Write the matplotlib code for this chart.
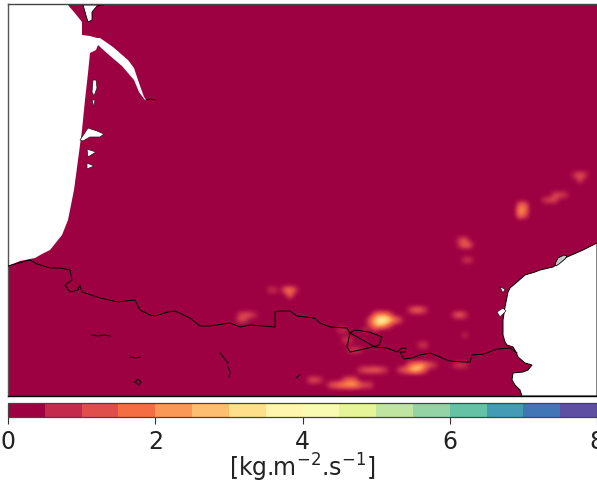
import numpy as np
import matplotlib
matplotlib.use("Agg")
import matplotlib.pyplot as plt
from matplotlib.cm import ScalarMappable
from matplotlib.colors import BoundaryNorm, Normalize
from matplotlib.patches import Polygon
from matplotlib.ticker import FormatStrFormatter, NullLocator

W, H = 597, 486

# Colour scale
levels = [i * 0.5 for i in range(17)]
tick_values = [0, 2, 4, 6, 8]
unit_label = r"[kg.m$^{-2}$.s$^{-1}$]"
background_value = 0.0

# Precipitation cells (map position, value)
hot_x = [375,380,385,390, 370,375,380,385,390,395,400, 370,375,380,385,390, 365,375,
         410,415,420,425, 455,460,465,
         460,465, 460,465,470, 465,470,
         520,525, 520,525, 520,525,
         545,550,555, 555,560,565, 575,580,585, 580,
         285,290,295, 270,275, 290,
         240,245,250,255, 240,245,
         330,335,340,345,350,355,360,365,370, 345,350,355,
         360,365,370,375,380,385,
         410,415,420,425,430,435, 400,405,410,415,420,425,
         310,315,320, 350,355,360, 340,345, 345,350, 420,425, 455,460,465, 465]
hot_y = [315,315,315,315, 320,320,320,320,320,320,320, 325,325,325,325,325, 330,330,
         310,310,310,310, 315,315,315,
         240,240, 245,245,245, 260,260,
         205,205, 210,210, 215,215,
         200,200,200, 195,195,195, 175,175,175, 180,
         290,290,290, 290,290, 295,
         315,315,315,315, 320,320,
         385,385,385,385,385,385,385,385,385, 380,380,380,
         370,370,370,370,370,370,
         365,365,365,365,365,365, 370,370,370,370,370,370,
         380,380,380, 350,350,350, 330,330, 340,340, 345,345, 365,365,365, 335]
hot_v = [1.5,2.2,2.2,1.2, 1.2,2.8,3.8,3.8,3.0,2.0,1.0, 0.9,2.2,3.0,2.2,1.0, 0.6,0.7,
         0.8,1.6,1.6,0.8, 1.0,1.6,0.8,
         0.8,1.2, 0.8,1.6,1.2, 0.8,0.8,
         1.5,1.5, 2.2,1.8, 2.0,1.2,
         0.8,1.0,1.0, 1.0,1.0,0.8, 0.8,1.2,0.8, 1.0,
         1.5,2.0,1.0, 0.7,0.7, 1.5,
         0.8,1.2,1.0,0.6, 1.0,0.8,
         1.0,1.5,2.0,2.2,2.4,2.4,1.5,1.0,1.0, 1.0,1.5,1.2,
         0.8,1.2,1.4,1.5,1.2,0.8,
         1.5,2.0,2.6,2.0,1.2,0.7, 1.0,1.5,2.2,3.0,2.4,1.0,
         1.0,1.2,0.8, 0.7,0.9,0.6, 0.7,0.7, 0.9,0.8, 0.7,0.9, 0.6,0.9,0.7, 0.6]

# Sea and lagoon outlines (map position)
atlantic_x = [67,74,82,82,90,97,100,113,128,134,138,144,147,145,139,134,122,109,98,96,90,88,85,82,78,74,68,62,58,50,42,35,20,8,8]
atlantic_y = [4,12,22,35,36,38,38,47,60,68,80,97,101,100,92,80,66,55,45,50,53,73,100,130,160,190,220,235,240,250,254,258,261,266,4]
med_x = [597,583,567,560,553,540,535,525,517,510,508,505,503,503,505,507,513,516,518,525,532,528,523,513,512,515,520,522,597]
med_y = [243,250,257,262,267,270,272,275,282,288,292,307,320,335,342,345,347,352,357,363,365,370,372,373,380,385,390,396,396]
pocket_x = [83,88,92,92,97,104]
pocket_y = [5,22,20,12,6,5]
lake_xs = [[93,96,97,94,92], [92,95,94], [80,88,97,104,100,90,83], [87,96,88], [87,94,87], [497,503,506,500], [500,505,503]]
lake_ys = [[80,80,88,96,92], [100,100,107], [140,128,131,134,137,137,141], [149,152,157], [163,166,169], [312,308,311,317], [287,289,293]]
lagoon_x = [555,558,564,567,565,559,556]
lagoon_y = [264,258,255,256,259,264,266]

# Borders and inland lines (map position)
border_x = [8,22,30,37,50,60,70,72,65,70,78,80,82,100,118,125,135,140,150,155,168,175,190,200,210,230,240,250,275,275,280,290,297,314,320,330,347,
            350,347,350,360,372,379,382,369,355,350,
            375,387,397,402,406,405,400,404,412,420,430,440,449,464,470,472,484,497,510,517]
border_y = [266,262,260,264,268,268,270,280,285,292,290,285,292,298,302,301,300,310,315,316,312,311,318,326,326,323,327,325,327,312,311,311,316,318,323,327,328,
            333,347,352,350,347,345,337,332,330,333,
            347,348,352,348,348,352,352,359,358,355,353,357,361,362,362,355,354,349,348,353]
inland_xs = [[92,98,104,110], [130,135,140], [135,138,141,139,135], [220,224,228], [228,230,229], [296,300], [146,150,155]]
inland_ys = [[335,336,335,336], [357,358,357], [382,379,382,385,382], [353,358,363], [367,372,377], [378,375], [100,99,100]]

plt.rcParams["font.family"] = "DejaVu Sans"
fig = plt.figure(figsize=(W / 100, H / 100), dpi=100)
ax = fig.add_axes([8 / W, 1 - 396 / H, (W - 8) / W, 392 / H])
cax = fig.add_axes([8 / W, 1 - 417 / H, (W - 8) / W, 14 / H])

cmap_bar = plt.get_cmap("Spectral", 16)
norm_bar = BoundaryNorm(levels, 16)

grid_x = np.arange(5, 605, 5)
grid_y = np.arange(0, 405, 5)
field = np.full((grid_y.size, grid_x.size), background_value)
for x, y, v in zip(hot_x, hot_y, hot_v):
    field[np.searchsorted(grid_y, y), np.searchsorted(grid_x, x)] = v

ax.imshow(field, cmap="Spectral", norm=Normalize(0, 8), interpolation="bicubic",
          interpolation_stage="data", aspect="auto",
          extent=[2.5, 602.5, 402.5, -2.5], zorder=1)

ax.add_patch(Polygon(np.column_stack([atlantic_x, atlantic_y]), fc="white", ec="none", zorder=2))
ax.add_patch(Polygon(np.column_stack([med_x, med_y]), fc="white", ec="black", lw=0.7, zorder=2))
ax.add_patch(Polygon(np.column_stack([pocket_x, pocket_y]), fc="white", ec="black", lw=0.6, zorder=2))
for xs, ys in zip(lake_xs, lake_ys):
    ax.add_patch(Polygon(np.column_stack([xs, ys]), fc="white", ec="#301020", lw=0.5, zorder=2))
ax.add_patch(Polygon(np.column_stack([lagoon_x, lagoon_y]), fc="#c8c8c8", ec="black", lw=0.6, zorder=2))

ax.plot(border_x, border_y, color="black", lw=0.7, zorder=3)
for xs, ys in zip(inland_xs, inland_ys):
    ax.plot(xs, ys, color="#200010", lw=0.9, zorder=3)

ax.set_xlim(8, 597)
ax.set_ylim(396, 4)
ax.set_xticks([])
ax.set_yticks([])
for name, spine in ax.spines.items():
    spine.set_linewidth(1.0)
ax.spines["left"].set_color("#555555")
ax.spines["top"].set_color("#444444")
ax.spines["right"].set_visible(False)

cb = fig.colorbar(ScalarMappable(norm=norm_bar, cmap=cmap_bar), cax=cax,
                  orientation="horizontal", ticks=tick_values, spacing="proportional")
cb.ax.xaxis.set_minor_locator(NullLocator())
cb.outline.set_edgecolor("#444444")
cb.outline.set_linewidth(0.9)
cb.ax.tick_params(labelsize=17, length=5, width=0.8, color="#333333", pad=4, labelcolor="#222222")
cb.ax.xaxis.set_major_formatter(FormatStrFormatter("%d"))
cb.set_label(unit_label, fontsize=17, labelpad=-1, color="#222222")

fig.savefig("out.png", dpi=100)
